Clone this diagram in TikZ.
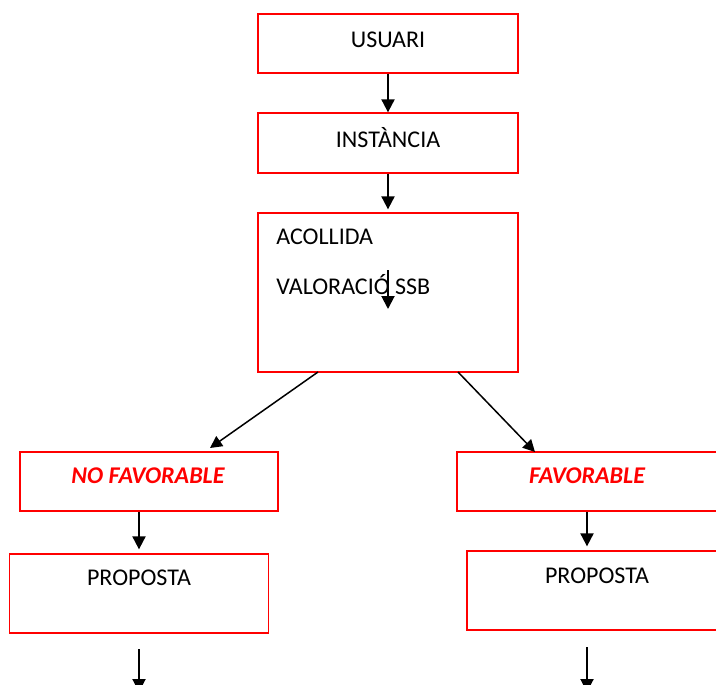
\documentclass[tikz,border=0pt]{standalone}
\usepackage{fontspec}
\setmainfont{Carlito}
\usepackage{xcolor}
\usetikzlibrary{positioning}
\usetikzlibrary{arrows, shapes, arrows.meta}
\tikzstyle{flowbox} = [draw=red, line width=0.65pt, inner sep=0pt, minimum width=130pt]
\tikzstyle{txt} = [inner sep=0pt, font=\fontsize{12}{14}\selectfont]
\tikzstyle{redtxt} = [txt, text=red, font=\fontsize{12}{14}\selectfont\bfseries\itshape]
\tikzstyle{arrow} = [line width=1pt, -{Triangle[length=6.5pt,width=6.5pt]}]
\tikzstyle{diagarrow} = [line width=0.75pt, -{Triangle[length=6pt,width=6pt]}]

\begin{document}
\begin{tikzpicture}[x=0.5pt,y=-0.5pt]
\clip (0,0) rectangle (716,684);
% boxes
\node[flowbox, minimum height=29.5pt] (usuari) at (388,43.5) {};
\node[flowbox, minimum height=30pt] (instancia) at (388,143) {};
\node[flowbox, minimum height=79.5pt] (acollida) at (388,292.5) {};
\node[flowbox, minimum width=129pt, minimum height=29.5pt] (nofav) at (149,481.5) {};
\node[flowbox, minimum width=129.5pt, minimum height=39.5pt] (propl) at (139,593.5) {};
\node[flowbox, minimum height=29.5pt] (fav) at (587,481.5) {};
\node[flowbox, minimum height=39.5pt] (propr) at (597,590.5) {};
% texts
\node[txt] (tusuari) at (388,40) {USUARI};
\node[txt] (tinstancia) at (388,138) {INSTÀNCIA};
\node[txt, anchor=west] (tacollida) at (276,237) {ACOLLIDA};
\node[txt, anchor=west] (tvaloracio) at (276,285) {VALORACIÓ SSB};
\node[redtxt] (tnofav) at (148,476) {NO FAVORABLE};
\node[redtxt] (tfav) at (587,476) {FAVORABLE};
\node[txt] (tpropl) at (139,578) {PROPOSTA};
\node[txt] (tpropr) at (597,576) {PROPOSTA};
% free ends
\coordinate (vtop) at (388,270);
\coordinate (vbot) at (388,309);
\coordinate (leftstart) at (318,372);
\coordinate (leftend) at (210,448);
\coordinate (rightstart) at (458,372);
\coordinate (rightend) at (535,452);
\coordinate (lstart) at (139,649);
\coordinate (lend) at (139,692);
\coordinate (rstart) at (587,647);
\coordinate (rend) at (587,692);
% arrows
\draw[arrow] (usuari.south) -- (instancia.north);
\draw[arrow] (instancia.south) -- ([yshift=1.5pt]acollida.north);
\draw[arrow] (vtop) -- (vbot);
\draw[diagarrow] (leftstart) -- (leftend);
\draw[diagarrow] (rightstart) -- (rightend);
\draw[arrow] (nofav.south -| propl.north) -- ([yshift=2pt]propl.north);
\draw[arrow] (fav.south) -- ([yshift=2pt]fav.south |- propr.north);
\draw[arrow] (lstart) -- (lend);
\draw[arrow] (rstart) -- (rend);
\end{tikzpicture}
\end{document}
